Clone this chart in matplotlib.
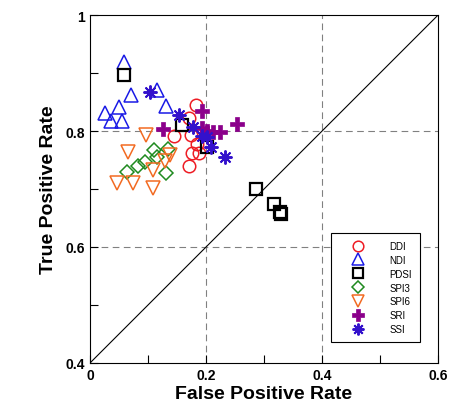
import numpy as np
import matplotlib.pyplot as plt

plt.rcParams['font.family'] = ['Liberation Sans', 'DejaVu Sans']

# ROC points (false positive rate, true positive rate) per drought index
ddi_fpr = [0.183, 0.170, 0.174, 0.144, 0.184, 0.175, 0.187, 0.170]
ddi_tpr = [0.845, 0.822, 0.793, 0.792, 0.778, 0.762, 0.762, 0.740]

ndi_fpr = [0.059, 0.071, 0.115, 0.131, 0.049, 0.026, 0.036, 0.055]
ndi_tpr = [0.920, 0.862, 0.871, 0.843, 0.841, 0.832, 0.817, 0.818]

pdsi_fpr = [0.059, 0.158, 0.201, 0.287, 0.318, 0.328, 0.330]
pdsi_tpr = [0.897, 0.811, 0.772, 0.700, 0.674, 0.660, 0.657]

spi3_fpr = [0.110, 0.134, 0.115, 0.094, 0.083, 0.063, 0.131]
spi3_tpr = [0.768, 0.769, 0.756, 0.747, 0.739, 0.729, 0.728]

spi6_fpr = [0.096, 0.066, 0.138, 0.129, 0.109, 0.047, 0.074, 0.109]
spi6_tpr = [0.793, 0.764, 0.759, 0.749, 0.733, 0.710, 0.710, 0.702]

sri_fpr = [0.193, 0.126, 0.253, 0.224, 0.193, 0.201, 0.212]
sri_tpr = [0.834, 0.803, 0.812, 0.799, 0.806, 0.800, 0.798]

ssi_fpr = [0.103, 0.154, 0.178, 0.193, 0.201, 0.209, 0.232]
ssi_tpr = [0.867, 0.828, 0.807, 0.792, 0.789, 0.772, 0.755]

fig = plt.figure(figsize=(4.62, 4.14), dpi=100)
ax = fig.add_axes([0.195, 0.121, 0.753, 0.840])

# grid lines
for g in [0.2, 0.4]:
    ax.axvline(g, color='gray', linestyle=(0, (6, 4)), linewidth=0.8, zorder=0)
for g in [0.6, 0.8]:
    ax.axhline(g, color='gray', linestyle=(0, (6, 4)), linewidth=0.8, zorder=0)

# reference line
ax.plot([0, 0.6], [0.4, 1.0], color='black', linewidth=0.8, zorder=1)

ax.plot(ddi_fpr, ddi_tpr, 'o', mfc='none', mec='#ee1c24', ms=9, mew=1.1, label='DDI')
ax.plot(ndi_fpr, ndi_tpr, '^', mfc='none', mec='#1a1ae6', ms=10, mew=1.1, label='NDI')
ax.plot(pdsi_fpr, pdsi_tpr, 's', mfc='none', mec='black', ms=8.5, mew=1.6, label='PDSI')
ax.plot(spi3_fpr, spi3_tpr, 'D', mfc='none', mec='#1f8a1f', ms=7, mew=1.1, label='SPI3')
ax.plot(spi6_fpr, spi6_tpr, 'v', mfc='none', mec='#f26b22', ms=10, mew=1.1, label='SPI6')
ax.plot(sri_fpr, sri_tpr, 'P', color='#8b008b', mec='#8b008b', ms=10, mew=0.5, label='SRI')
ax.plot(ssi_fpr, ssi_tpr, marker=(8, 2, 0), ls='none', color='#3311cc', ms=10, mew=1.4, label='SSI')

ax.set_xlim(0, 0.6)
ax.set_ylim(0.4, 1.0)
ax.set_xticks([0, 0.2, 0.4, 0.6])
ax.set_xticklabels(['0', '0.2', '0.4', '0.6'])
ax.set_yticks([0.4, 0.6, 0.8, 1.0])
ax.set_yticklabels(['0.4', '0.6', '0.8', '1'])
ax.set_xticks([0.1, 0.3, 0.5], minor=True)
ax.set_yticks([0.5, 0.7, 0.9], minor=True)
ax.tick_params(which='both', direction='in', length=6, width=0.8)
for lab in ax.get_xticklabels() + ax.get_yticklabels():
    lab.set_fontweight('bold')
    lab.set_fontsize(10)

ax.set_xlabel('False Positive Rate', fontsize=14, fontweight='bold', labelpad=2)
ax.set_ylabel('True Positive Rate', fontsize=14, fontweight='bold', labelpad=6)

leg = ax.legend(loc='lower right', bbox_to_anchor=(0.948, 0.060), borderaxespad=0,
                fontsize=7, frameon=True, fancybox=False, edgecolor='black',
                framealpha=1, handlelength=4, labelspacing=0.4, borderpad=0.8,
                handletextpad=1.2, markerscale=0.85)
leg.get_frame().set_linewidth(0.8)

fig.savefig('out.png', dpi=100)
